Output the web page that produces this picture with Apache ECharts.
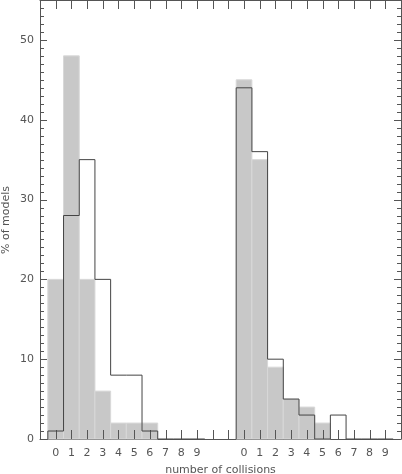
<!DOCTYPE html>
<html>
<head>
<meta charset="utf-8">
<script src="https://cdn.jsdelivr.net/npm/echarts@6/dist/echarts.min.js"></script>
<style>
  html, body { margin: 0; padding: 0; background: #fff; }
  #chart { width: 402px; height: 474px; }
</style>
</head>
<body>
<div id="chart"></div>
<script>
// number of collisions per bin, two panels side by side
const binLabels = [0, 1, 2, 3, 4, 5, 6, 7, 8, 9];
const groupOffsets = [0, 12];
const leftFilled = [20, 48, 20, 6, 2, 2, 2, 0, 0, 0];
const leftOutline = [1, 28, 35, 20, 8, 8, 1, 0, 0, 0];
const rightFilled = [45, 35, 9, 5, 4, 2, 0, 0, 0, 0];
const rightOutline = [44, 36, 10, 5, 3, 0, 3, 0, 0, 0];
const yTicks = [0, 10, 20, 30, 40, 50];
const xTickValues = [0, 1, 2, 3, 4, 5, 6, 7, 8, 9, 10, 11, 12, 13, 14, 15, 16, 17, 18, 19, 20, 21];
const yTickValues = Array.from({ length: 55 }, (_, i) => i);

const X_MIN = -1, X_MAX = 22, Y_MIN = 0, Y_MAX = 55;
const axisColor = "#555";
const textColor = "#555";
const font = "DejaVu Sans";

function barData(vals, offset) {
  return vals.map((v, i) => [offset + binLabels[i], v]);
}

// histogram outline as a step polyline through the bin edges
function stepData(vals, offset) {
  const pts = [[offset + binLabels[0] - 0.5, 0]];
  vals.forEach((v, i) => {
    pts.push([offset + binLabels[i] - 0.5, v]);
    pts.push([offset + binLabels[i] + 0.5, v]);
  });
  pts.push([offset + binLabels[vals.length - 1] + 0.5, 0]);
  return pts;
}

function renderBin(params, api) {
  const x = api.value(0);
  const v = api.value(1);
  if (!v) return null;
  const p0 = api.coord([x - 0.5, v]);
  const p1 = api.coord([x + 0.5, 0]);
  return {
    type: "rect",
    shape: { x: p0[0], y: p0[1], width: p1[0] - p0[0], height: p1[1] - p0[1] },
    style: { fill: "#c8c8c8", stroke: "#d8d8d8", lineWidth: 1 },
  };
}

// inward ticks on bottom and top edges, drawn as 1px rects
function renderXTick(params, api) {
  const v = api.value(0);
  const b = api.coord([v, Y_MIN]);
  const t = api.coord([v, Y_MAX]);
  const x = Math.round(b[0]);
  return {
    type: "group",
    children: [
      { type: "rect", shape: { x: x, y: b[1] - 9, width: 1, height: 9 }, style: { fill: axisColor } },
      { type: "rect", shape: { x: x, y: t[1], width: 1, height: 9 }, style: { fill: axisColor } },
    ],
  };
}

// inward ticks on left and right edges, long ones every 10
function renderYTick(params, api) {
  const v = api.value(1);
  const l = api.coord([X_MIN, v]);
  const r = api.coord([X_MAX, v]);
  const y = Math.round(l[1]);
  const len = v % 10 === 0 ? 7 : 4;
  return {
    type: "group",
    children: [
      { type: "rect", shape: { x: l[0], y: y, width: len, height: 1 }, style: { fill: axisColor } },
      { type: "rect", shape: { x: r[0] - len, y: y, width: len, height: 1 }, style: { fill: axisColor } },
    ],
  };
}

function xLabel(v) {
  for (const off of groupOffsets) {
    const k = v - off;
    if (binLabels.includes(k)) return String(k);
  }
  return "";
}

function xAxisOf(position, withLabels) {
  return {
    type: "value",
    position: position,
    min: X_MIN,
    max: X_MAX,
    interval: 1,
    splitLine: { show: false },
    axisLine: { show: true, onZero: false, lineStyle: { color: axisColor, width: 1 } },
    axisTick: { show: false },
    name: withLabels ? "number of collisions" : "",
    nameLocation: "middle",
    nameGap: 26,
    nameTextStyle: { fontFamily: font, fontSize: 11, color: textColor },
    axisLabel: {
      show: withLabels,
      margin: 9,
      fontFamily: font,
      fontSize: 11,
      color: textColor,
      formatter: xLabel,
    },
  };
}

function yAxisOf(position, withLabels) {
  return {
    type: "value",
    position: position,
    min: Y_MIN,
    max: Y_MAX,
    interval: 10,
    splitLine: { show: false },
    axisLine: { show: true, onZero: false, lineStyle: { color: axisColor, width: 1 } },
    axisTick: { show: false },
    minorTick: { show: false },
    axisLabel: {
      show: withLabels,
      margin: 6,
      fontFamily: font,
      fontSize: 11,
      color: textColor,
      formatter: (v) => (yTicks.includes(v) ? String(v) : ""),
    },
  };
}

const myChart = echarts.init(document.getElementById("chart"));
const option = {
  animation: false,
  grid: { left: 40, right: 1, top: 0, bottom: 35, outerBoundsMode: "none" },
  graphic: [
    {
      type: "text",
      x: 6,
      y: 220,
      rotation: Math.PI / 2,
      style: {
        text: "% of models",
        fontFamily: font,
        fontSize: 11,
        fill: textColor,
        align: "center",
        verticalAlign: "middle",
      },
    },
  ],
  xAxis: [xAxisOf("bottom", true), xAxisOf("top", false)],
  yAxis: [yAxisOf("left", true), yAxisOf("right", false)],
  series: [
    {
      type: "custom",
      renderItem: renderBin,
      data: barData(leftFilled, groupOffsets[0]).concat(barData(rightFilled, groupOffsets[1])),
      silent: true,
      z: 1,
    },
    {
      type: "custom",
      renderItem: renderXTick,
      data: xTickValues.map((v) => [v, Y_MIN]),
      silent: true,
      z: 2,
    },
    {
      type: "custom",
      renderItem: renderYTick,
      data: yTickValues.map((v) => [X_MIN, v]),
      silent: true,
      z: 2,
    },
    {
      type: "line",
      data: stepData(leftOutline, groupOffsets[0]),
      symbol: "none",
      lineStyle: { color: "#444", width: 1 },
      z: 3,
    },
    {
      type: "line",
      data: stepData(rightOutline, groupOffsets[1]),
      symbol: "none",
      lineStyle: { color: "#444", width: 1 },
      z: 3,
    },
  ],
};
myChart.setOption(option);
</script>
</body>
</html>
